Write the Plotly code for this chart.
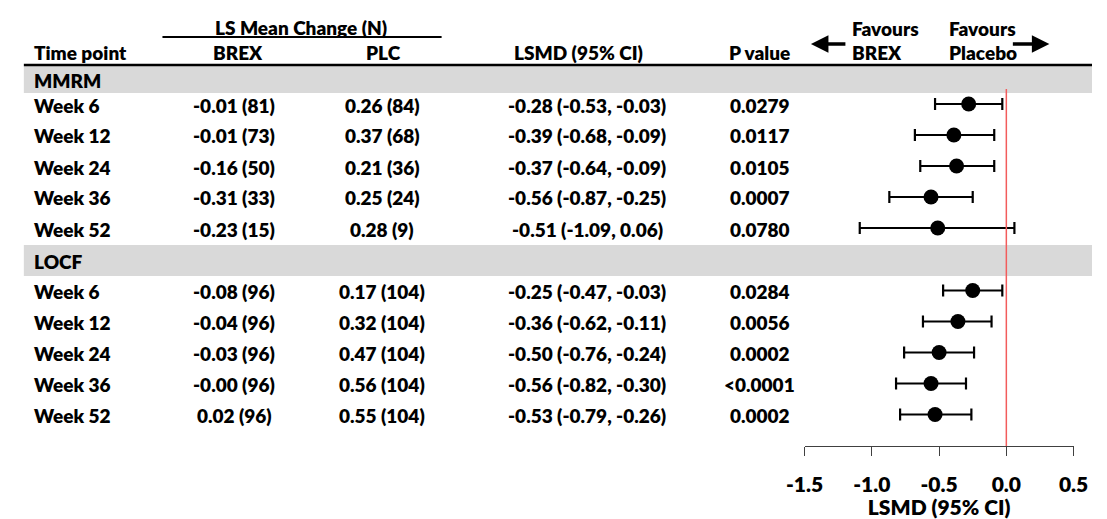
import plotly.graph_objects as go

W, H = 1107, 519
FONT = "Lato"

# ---------------- data ----------------
groups = ["MMRM", "LOCF"]
timepoints = ["Week 6", "Week 12", "Week 24", "Week 36", "Week 52"]

mmrm_brex = ["-0.01 (81)", "-0.01 (73)", "-0.16 (50)", "-0.31 (33)", "-0.23 (15)"]
mmrm_plc = ["0.26 (84)", "0.37 (68)", "0.21 (36)", "0.25 (24)", "0.28 (9)"]
mmrm_est = [-0.28, -0.39, -0.37, -0.56, -0.51]
mmrm_lo = [-0.53, -0.68, -0.64, -0.87, -1.09]
mmrm_hi = [-0.03, -0.09, -0.09, -0.25, 0.06]
mmrm_p = ["0.0279", "0.0117", "0.0105", "0.0007", "0.0780"]

locf_brex = ["-0.08 (96)", "-0.04 (96)", "-0.03 (96)", "-0.00 (96)", "0.02 (96)"]
locf_plc = ["0.17 (104)", "0.32 (104)", "0.47 (104)", "0.56 (104)", "0.55 (104)"]
locf_est = [-0.25, -0.36, -0.50, -0.56, -0.53]
locf_lo = [-0.47, -0.62, -0.76, -0.82, -0.79]
locf_hi = [-0.03, -0.11, -0.24, -0.30, -0.26]
locf_p = ["0.0284", "0.0056", "0.0002", "<0.0001", "0.0002"]

tick_vals = [-1.5, -1.0, -0.5, 0.0, 0.5]
tick_text = ["-1.5", "-1.0", "-0.5", "0.0", "0.5"]

# ---------------- layout helpers ----------------
def xp(px):
    return px / W

def yp(py):
    return 1 - py / H

ROW_GAP = 31
group_first_row = {"MMRM": 104, "LOCF": 290.5}
group_band = {"MMRM": (66, 93), "LOCF": (245, 276)}

COL_TIME_X = 13
COL_BREX_X = 222
COL_PLC_X = 375
COL_LSMD_X = 586
COL_P_X = 764
AXIS_Y = 446
TXT = 19

fig = go.Figure()
shapes = []
annotations = []

def add_text(text, x, y, anchor="center", size=TXT):
    annotations.append(dict(
        text=text, x=xp(x), y=yp(y), xref="paper", yref="paper",
        xanchor=anchor, yanchor="middle", showarrow=False,
        font=dict(family=FONT, size=size, color="black", weight=800)))

data = {
    "MMRM": (mmrm_brex, mmrm_plc, mmrm_est, mmrm_lo, mmrm_hi, mmrm_p),
    "LOCF": (locf_brex, locf_plc, locf_est, locf_lo, locf_hi, locf_p),
}

# grey group bands
for g in groups:
    b0, b1 = group_band[g]
    shapes.append(dict(type="rect", xref="paper", yref="paper",
                       x0=xp(5), x1=1, y0=yp(b1), y1=yp(b0),
                       fillcolor="#d9d9d9", line=dict(width=0), layer="below"))
    add_text(g, COL_TIME_X, (b0 + b1) / 2 + 1, anchor="left")

for g in groups:
    brex, plc, est, lo, hi, pv = data[g]
    ys = [group_first_row[g] + ROW_GAP * i for i in range(len(timepoints))]
    for i, tp in enumerate(timepoints):
        y = ys[i] + 1
        add_text(tp, COL_TIME_X, y, anchor="left")
        add_text(brex[i], COL_BREX_X, y)
        add_text(plc[i], COL_PLC_X, y)
        add_text("%.2f (%.2f, %.2f)" % (est[i], lo[i], hi[i]), COL_LSMD_X, y)
        add_text(pv[i], COL_P_X, y)
    fig.add_trace(go.Scatter(
        x=est, y=ys, mode="markers",
        marker=dict(size=15, color="black"),
        error_x=dict(type="data", symmetric=False,
                     array=[h - e for h, e in zip(hi, est)],
                     arrayminus=[e - l for e, l in zip(est, lo)],
                     color="black", thickness=2.2, width=6),
        showlegend=False, hoverinfo="skip", cliponaxis=False))

# reference line at 0
shapes.append(dict(type="line", xref="x", yref="y", x0=0, x1=0, y0=89, y1=AXIS_Y,
                   line=dict(color="#f25c5c", width=1.5)))
# header rule
shapes.append(dict(type="line", xref="paper", yref="paper", x0=xp(5), x1=1,
                   y0=yp(65), y1=yp(65), line=dict(color="black", width=2.5)))
# LS Mean Change underline
shapes.append(dict(type="line", xref="paper", yref="paper", x0=xp(148), x1=xp(436),
                   y0=yp(37), y1=yp(37), line=dict(color="black", width=2)))

# headers
add_text("LS Mean Change (N)", 291, 27)
add_text("Time point", COL_TIME_X, 52, anchor="left")
add_text("BREX", 226, 52)
add_text("PLC", 376, 52)
add_text("LSMD (95% CI)", 577, 52)
add_text("P value", 764, 52)
add_text("Favours", 857, 29, anchor="left")
add_text("BREX", 857, 52, anchor="left")
add_text("Favours", 957, 29, anchor="left")
add_text("Placebo", 957, 52, anchor="left")

# arrows
annotations.append(dict(x=xp(817), y=yp(44), xref="paper", yref="paper", text="",
                        showarrow=True, ax=36, ay=0, arrowhead=2, arrowsize=1,
                        arrowwidth=3.5, arrowcolor="black"))
annotations.append(dict(x=xp(1063), y=yp(44), xref="paper", yref="paper", text="",
                        showarrow=True, ax=-38, ay=0, arrowhead=2, arrowsize=1,
                        arrowwidth=3.5, arrowcolor="black"))

fig.update_layout(
    width=W, height=H,
    margin=dict(l=0, r=0, t=0, b=0),
    paper_bgcolor="white", plot_bgcolor="rgba(0,0,0,0)",
    shapes=shapes, annotations=annotations,
    xaxis=dict(domain=[xp(810.5), xp(1088)], range=[-1.5, 0.5],
               anchor="free", position=yp(AXIS_Y),
               showgrid=False, zeroline=False,
               showline=True, linecolor="#404040", linewidth=1.3,
               ticks="outside", ticklen=9, tickwidth=1.3, tickcolor="#404040",
               tickvals=tick_vals, ticktext=tick_text, ticklabelstandoff=11,
               tickfont=dict(family=FONT, size=21, color="black", weight=800),
               title=dict(text="LSMD (95% CI)", standoff=6,
                          font=dict(family=FONT, size=21, color="black", weight=800))),
    yaxis=dict(domain=[0, 1], range=[H, 0], visible=False),
)

fig.write_html("out.html",
               config={"displayModeBar": False},
               post_script="document.body.style.margin='0';"
                           "document.body.style.overflow='hidden';")
